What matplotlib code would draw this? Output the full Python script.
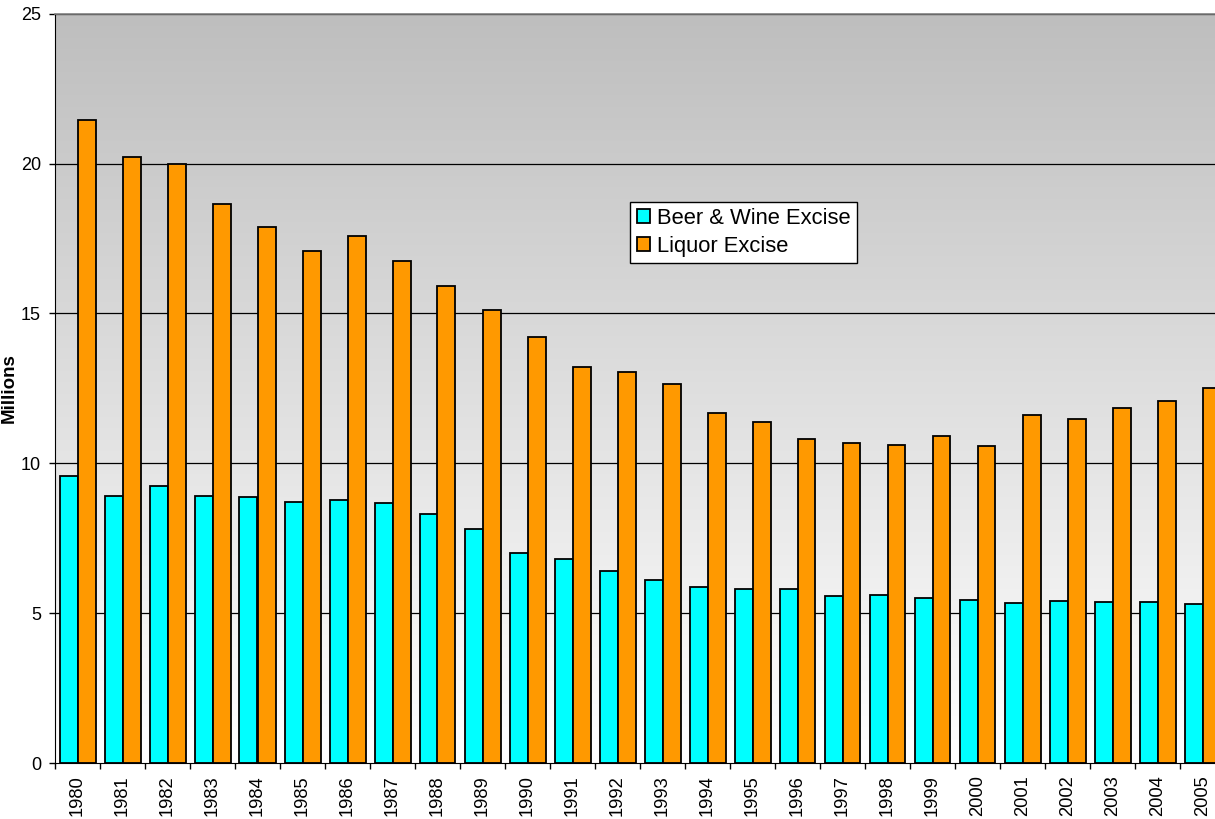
import matplotlib
matplotlib.use("Agg")
import matplotlib.pyplot as plt
import numpy as np

years = [str(y) for y in range(1980, 2006)]
beer_wine = [9.57, 8.90, 9.23, 8.91, 8.89, 8.72, 8.76, 8.68, 8.32, 7.80,
             6.99, 6.80, 6.39, 6.09, 5.87, 5.81, 5.79, 5.58, 5.62, 5.52,
             5.45, 5.34, 5.41, 5.37, 5.38, 5.29]
liquor = [21.47, 20.21, 19.97, 18.64, 17.90, 17.07, 17.57, 16.76, 15.92, 15.11,
          14.22, 13.22, 13.03, 12.64, 11.67, 11.38, 10.80, 10.68, 10.62, 10.90,
          10.58, 11.62, 11.48, 11.86, 12.08, 12.51]
series_names = ["Beer & Wine Excise", "Liquor Excise"]
yticks = [0, 5, 10, 15, 20, 25]

plt.rcParams['font.family'] = ['Liberation Sans', 'DejaVu Sans']

W, H = 1215, 819
fig = plt.figure(figsize=(W / 100, H / 100), dpi=100)
fig.patch.set_facecolor('white')
ax = fig.add_axes([55 / W, (H - 763) / H, 1170 / W, 749.3 / H])

n = len(years)
x = np.arange(n)

# gradient background (gray at top, white at bottom)
grad = np.linspace(0, 1, 256)
top = np.array([0.745, 0.745, 0.745])
bot = np.array([1.0, 1.0, 1.0])
img = (top[None, :] + (bot - top)[None, :] * grad[:, None]).reshape(256, 1, 3)
ax.imshow(img, extent=[-0.5, n - 0.5, 0, 25], origin='upper', aspect='auto',
          zorder=0, interpolation='bilinear')
ax.set_xlim(-0.5, n - 0.5)
ax.set_ylim(0, 25)

for yv in yticks[1:]:
    ax.axhline(yv, color='black', lw=0.9, zorder=1)

bw = 0.4
b1 = ax.bar(x - bw / 2, beer_wine, width=bw, color='#00FFFF', edgecolor='black',
            linewidth=1.3, zorder=2, label=series_names[0])
b2 = ax.bar(x + bw / 2, liquor, width=bw, color='#FF9900', edgecolor='black',
            linewidth=1.3, zorder=2, label=series_names[1])

ax.spines['right'].set_visible(False)
ax.spines['top'].set_color('#808080')
ax.spines['top'].set_linewidth(1.2)
ax.spines['left'].set_color('black')
ax.spines['bottom'].set_color('black')

ax.set_yticks(yticks)
ax.set_yticklabels([str(v) for v in yticks], fontsize=13)
ax.tick_params(axis='y', direction='out', length=4, width=1, pad=6)

ax.set_xticks(np.arange(n + 1) - 0.5)
ax.set_xticklabels([])
ax.tick_params(axis='x', which='major', direction='out', length=4, width=1)
ax.set_xticks(x, minor=True)
ax.set_xticklabels(years, minor=True, rotation=90, fontsize=13.2)
ax.tick_params(axis='x', which='minor', length=0, pad=9)

ax.set_ylabel("Millions", fontsize=13.5, fontweight='bold')
ax.yaxis.set_label_coords((18 - 55) / 1170, 0.5)

leg = fig.legend(handles=[b1, b2], labels=series_names, loc='upper left',
                 bbox_to_anchor=(630 / W, 1 - 201.5 / H), fontsize=15.8,
                 frameon=True, fancybox=False, edgecolor='black',
                 handlelength=0.62, handleheight=0.62, handletextpad=0.3,
                 borderpad=0.3, labelspacing=0.3, borderaxespad=0)
leg.get_frame().set_linewidth(1.0)
leg.get_frame().set_facecolor('white')
leg.get_frame().set_alpha(1)

fig.savefig("out.png", dpi=100)
